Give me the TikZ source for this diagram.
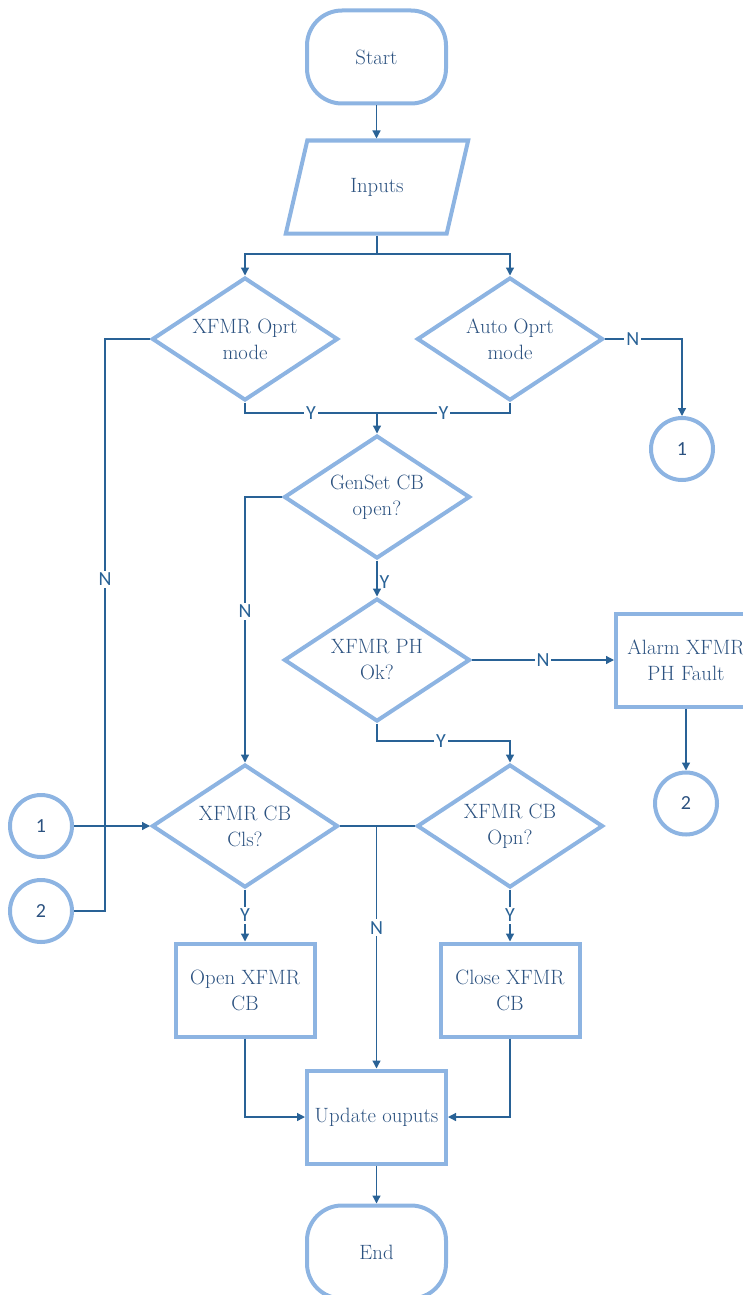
\documentclass[tikz,border=0pt]{standalone}
\usepackage{fontspec}
\newfontfamily\labelfont{Carlito}
\usetikzlibrary{shapes.geometric, arrows.meta, positioning, calc}
\definecolor{boxblue}{RGB}{141,180,226}
\definecolor{lineblue}{RGB}{41,98,150}
\definecolor{textblue}{RGB}{44,82,128}

\begin{document}
\begin{tikzpicture}[
        x=1pt, y=-1pt,
        shp/.style={draw=boxblue, line width=4pt, text=textblue, align=center, inner sep=0pt, font=\fontsize{20.7}{26}\selectfont},
        term/.style={shp, rectangle, rounded corners=35pt, minimum width=139pt, minimum height=93pt},
        io/.style={shp, trapezium, trapezium left angle=65.7, trapezium right angle=114.3, trapezium stretches=true, minimum width=183pt, minimum height=93pt},
        dec/.style={shp, diamond, aspect=1.5, minimum width=186pt, minimum height=123pt},
        box/.style={shp, rectangle, minimum width=139pt, minimum height=93pt},
        conn/.style={shp, circle, minimum size=62pt, font=\labelfont\fontsize{20}{22}\selectfont},
        arrow/.style={-{Triangle[length=8pt, width=8pt]}, line width=1.3pt, lineblue},
        wire/.style={line width=1.3pt, lineblue},
        lbl/.style={fill=white, inner sep=2pt, text=lineblue, font=\labelfont\fontsize{20}{22}\selectfont}
    ]
    \useasboundingbox (0,0) rectangle (743,1295);

    % Start and inputs
    \node[term] (start) at (376.5,57) {Start};
    \node[io] (inputs) at (377,187) {Inputs};
    \coordinate (split) at (377,254);

    % Operating mode checks
    \node[dec] (oprt) at (245,339) {XFMR Oprt\\mode};
    \node[dec] (auto) at (510,339) {Auto Oprt\\mode};
    \node[conn] (c1r) at (682,449) {1};
    \coordinate (mrg) at (377,413);

    % Breaker and phase checks
    \node[dec] (genset) at (377,497) {GenSet CB\\open?};
    \node[dec, below=36pt of genset] (ph) {XFMR PH\\Ok?};
    \node[box, minimum width=140pt, right=142pt of ph] (alarm) {Alarm XFMR\\PH Fault};
    \node[conn, below=62pt of alarm] (c2r) {2};
    \coordinate (phy) at (441,741);

    % XFMR CB checks
    \node[dec] (cls) at (245,826) {XFMR CB\\Cls?};
    \node[dec] (opn) at (510,826) {XFMR CB\\Opn?};
    \node[conn] (c1l) at (41,826) {1};
    \node[conn] (c2l) at (41,911) {2};
    \coordinate (nbus) at (105,911);

    % Actions
    \node[box, below=52pt of cls] (openb) {Open XFMR\\CB};
    \node[box, below=52pt of opn] (closeb) {Close XFMR\\CB};
    \node[box] (update) at (376.5,1117) {Update ouputs};
    \node[term, below=38pt of update] (end) {End};

    % Connectors
    \draw[arrow] (start.south) -- (start.south |- inputs.north);
    \draw[wire] (inputs.center |- inputs.south) -- (split);
    \draw[arrow] (split) -| (oprt.north);
    \draw[arrow] (split) -| (auto.north);
    \draw[wire] (oprt.south) |- node[lbl, pos=0.75] {Y} (mrg);
    \draw[wire] (auto.south) |- node[lbl, pos=0.75] {Y} (mrg);
    \draw[arrow] (mrg) -- (genset.north);
    \draw[arrow] (auto.east) -| node[lbl, pos=0.18] {N} (c1r.north);
    \draw[wire] (oprt.west) -| node[lbl, pos=0.71] {N} (nbus) -- (c2l.east);
    \draw[arrow] (genset.south) -- node[lbl, right, fill=none, pos=0.6] {Y} (ph.north);
    \draw[arrow] (genset.west) -| node[lbl, pos=0.715] {N} (cls.north);
    \draw[arrow] (ph.east) -- node[lbl] {N} (alarm.west);
    \draw[arrow] (alarm.south) -- (c2r.north);
    \draw[arrow] (ph.south) |- (phy) node[lbl] {Y} -| (opn.north);
    \draw[arrow] (c1l.east) -- (cls.west);
    \draw[wire] (cls.east) -- (opn.west);
    \draw[arrow] (update.north |- cls.east) -- node[lbl, pos=0.42] {N} (update.north);
    \draw[arrow] (cls.south) -- node[lbl] {Y} (openb.north);
    \draw[arrow] (opn.south) -- node[lbl] {Y} (closeb.north);
    \draw[arrow] (openb.south) |- (update.west);
    \draw[arrow] (closeb.south) |- (update.east);
    \draw[arrow] (update.south) -- (end.north);
\end{tikzpicture}
\end{document}
